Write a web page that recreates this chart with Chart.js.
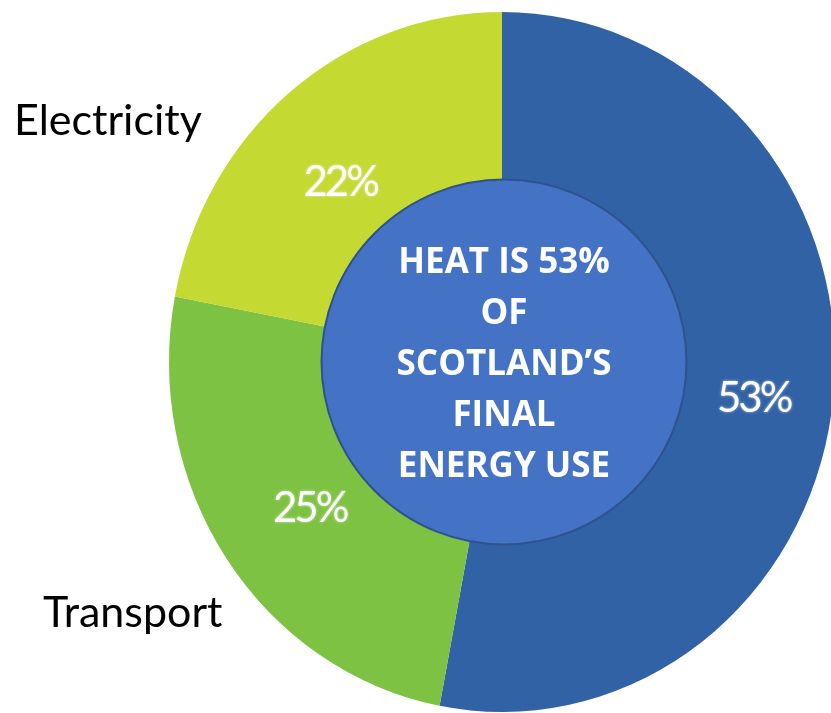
<!DOCTYPE html>
<html>
<head>
<meta charset="utf-8">
<script src="https://cdn.jsdelivr.net/npm/chart.js@4"></script>
<style>
    html, body { margin: 0; padding: 0; background: #fff; overflow: hidden; }
    #wrap { position: relative; width: 840px; height: 713px; }
</style>
</head>
<body>
<div id="wrap"><canvas id="energyChart"></canvas></div>
<script>
// Dados do gráfico
const categories = ['Heat', 'Transport', 'Electricity'];
const shares = [53, 25, 22];
const sliceColours = ['#3262A6', '#7DC242', '#C4D932'];
const centreLines = ['HEAT IS 53%', 'OF', 'SCOTLAND\u2019S', 'FINAL', 'ENERGY USE'];
const outsideNames = ['Electricity', 'Transport'];

// Posição dos nomes fora do gráfico (x esquerda, linha de base)
const outsidePos = {
    Electricity: [14, 135],
    Transport: [43, 627]
};

// pequeno ajuste dos rótulos de % (como no original)
const labelNudge = [[13, 13], [6, 5], [-9, 15]];

// o original é um pouco esticado na vertical
const stretchY = 1.051;

const piePlugin = {
    id: 'piePlugin',
    beforeDatasetsDraw(chart) {
        const arc = chart.getDatasetMeta(0).data[0];
        const ctx = chart.ctx;
        ctx.save();
        ctx.translate(arc.x, arc.y);
        ctx.scale(1, stretchY);
        ctx.translate(-arc.x, -arc.y);
    },
    afterDatasetsDraw(chart) {
        const ctx = chart.ctx;
        ctx.restore();

        const meta = chart.getDatasetMeta(0);
        const cx = meta.data[0].x;
        const cy = meta.data[0].y;
        const r = meta.data[0].outerRadius;

        // rótulos de porcentagem
        ctx.save();
        ctx.fillStyle = '#fff';
        ctx.font = '42px Lato';
        ctx.letterSpacing = '-3px';
        ctx.textAlign = 'center';
        ctx.textBaseline = 'middle';
        ctx.shadowColor = 'rgba(255,255,255,0.6)';
        ctx.shadowBlur = 3;
        meta.data.forEach((arc, i) => {
            const mid = (arc.startAngle + arc.endAngle) / 2;
            const x = cx + Math.cos(mid) * r * 0.72 + labelNudge[i][0];
            const y = cy + Math.sin(mid) * r * 0.72 * stretchY + labelNudge[i][1];
            ctx.fillText(shares[i] + '%', x, y);
        });
        ctx.restore();

        // círculo central
        ctx.save();
        ctx.beginPath();
        ctx.arc(cx + 2, cy, r * 0.548, 0, Math.PI * 2);
        ctx.fillStyle = '#4472C4';
        ctx.fill();
        ctx.lineWidth = 2;
        ctx.strokeStyle = '#2F528F';
        ctx.stroke();

        ctx.fillStyle = '#fff';
        ctx.font = 'bold 35px "Open Sans"';
        ctx.textAlign = 'center';
        ctx.textBaseline = 'alphabetic';
        centreLines.forEach((line, i) => {
            ctx.fillText(line, cx + 2, 273 + i * 51);
        });
        ctx.restore();

        // nomes das categorias
        ctx.save();
        ctx.fillStyle = '#000';
        ctx.font = '43px Lato';
        ctx.textAlign = 'left';
        outsideNames.forEach(name => {
            const p = outsidePos[name];
            ctx.fillText(name, p[0], p[1]);
        });
        ctx.restore();
    }
};

const ctx = document.getElementById('energyChart').getContext('2d');
new Chart(ctx, {
    type: 'pie',
    data: {
        labels: categories,
        datasets: [{
            data: shares,
            backgroundColor: sliceColours,
            borderWidth: 0
        }]
    },
    options: {
        responsive: true,
        maintainAspectRatio: false,
        animation: false,
        layout: {
            padding: { left: 169, right: 5, top: 29, bottom: 18 }
        },
        plugins: {
            legend: { display: false },
            tooltip: { enabled: false }
        }
    },
    plugins: [piePlugin]
});
</script>
</body>
</html>
